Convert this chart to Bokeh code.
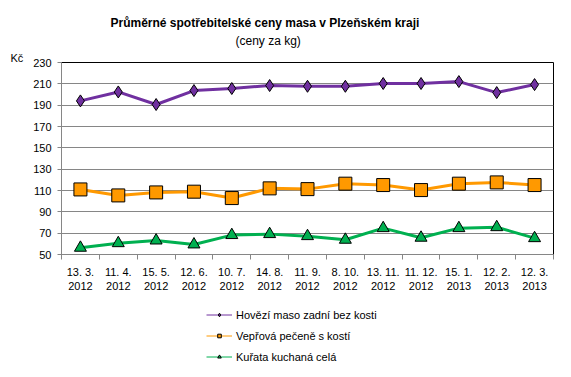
from bokeh.plotting import figure
from bokeh.layouts import column
from bokeh.models import Range1d, FixedTicker, Title, Legend, LegendItem, ColumnDataSource
from bokeh.embed import file_html
from bokeh.resources import INLINE

dates = ["13. 3.\n2012", "11. 4.\n2012", "15. 5.\n2012", "12. 6.\n2012", "10. 7.\n2012",
         "14. 8.\n2012", "11. 9.\n2012", "8. 10.\n2012", "13. 11.\n2012", "11. 12.\n2012",
         "15. 1.\n2013", "12. 2.\n2013", "12. 3.\n2013"]
hovezi = [194.0, 202.4, 190.6, 203.7, 205.6, 208.4, 207.7, 207.7, 210.3, 210.3, 212.1, 201.8, 209.3]
veprova = [111.0, 105.4, 108.2, 108.9, 102.9, 112.0, 111.3, 116.4, 115.1, 110.4, 116.4, 117.6, 115.1]
kurata = [56.3, 60.6, 63.1, 59.4, 68.2, 69.1, 67.2, 63.8, 74.7, 65.7, 74.7, 75.6, 65.3]
names = ["Hovězí maso zadní bez kosti", "Vepřová pečeně s kostí", "Kuřata kuchaná celá"]
y_ticks = [50, 70, 90, 110, 130, 150, 170, 190, 210, 230]

FONT = "Liberation Sans"
xs = [i + 0.5 for i in range(len(dates))]

W = 571
MAIN_H, LEG_H = 300, 77
FL, FR, FT = 61, 18, 62
FB = MAIN_H - 254
p = figure(width=W, height=MAIN_H, output_backend="svg", toolbar_location=None,
           x_range=Range1d(0, len(dates)), y_range=Range1d(50, 230),
           min_border_left=FL, min_border_right=FR, min_border_top=FT, min_border_bottom=FB)
p.outline_line_color = "black"
p.outline_line_width = 1
p.background_fill_color = "white"
p.border_fill_color = "white"

p.xgrid.visible = False
p.ygrid.grid_line_color = "#868686"
p.ygrid.grid_line_width = 1
p.yaxis.ticker = FixedTicker(ticks=y_ticks)
p.yaxis.axis_line_color = "#868686"
p.yaxis.major_tick_line_color = "#868686"
p.yaxis.major_tick_out = 4
p.yaxis.major_tick_in = 0
p.yaxis.minor_tick_line_color = None
p.yaxis.major_label_text_font = FONT
p.yaxis.major_label_text_font_size = "11px"
p.yaxis.major_label_text_color = "black"
p.yaxis.major_label_standoff = 6

p.xaxis.ticker = FixedTicker(ticks=xs, minor_ticks=list(range(len(dates) + 1)))
p.xaxis.major_label_overrides = {x: d for x, d in zip(xs, dates)}
p.xaxis.axis_line_color = "#868686"
p.xaxis.major_tick_line_color = None
p.xaxis.major_tick_out = 0
p.xaxis.major_tick_in = 0
p.xaxis.minor_tick_line_color = "#868686"
p.xaxis.minor_tick_out = 5
p.xaxis.minor_tick_in = 0
p.xaxis.major_label_text_font = FONT
p.xaxis.major_label_text_font_size = "11px"
p.xaxis.major_label_text_color = "black"
p.xaxis.major_label_standoff = 6

colors = ["#7030A0", "#FF9900", "#00B050"]
markers = ["diamond", "square", "triangle"]
sizes = [12, 13, 12]
series = [hovezi, veprova, kurata]

# legend lives in its own small figure below the chart; its proxy renderers use the
# same data, which lies far outside this figure's ranges (so only the legend shows)
lf = figure(width=W, height=LEG_H, output_backend="svg", toolbar_location=None,
            x_range=Range1d(-2, -1), y_range=Range1d(0, 1),
            min_border_left=0, min_border_right=0, min_border_top=0, min_border_bottom=0)
lf.axis.visible = False
lf.grid.visible = False
lf.outline_line_color = None
lf.background_fill_color = "white"
lf.border_fill_color = "white"

items = []
for name, vals, c, m, s in zip(names, series, colors, markers, sizes):
    src = ColumnDataSource(dict(x=xs, y=vals))
    p.line("x", "y", source=src, line_color=c, line_width=3)
    p.scatter("x", "y", source=src, marker=m, size=s, fill_color=c, line_color="black", line_width=1)
    lr = lf.line("x", "y", source=src, line_color=c, line_width=1)
    sr = lf.scatter("x", "y", source=src, marker=m, fill_color=c, line_color="black", line_width=1)
    items.append(LegendItem(label=name, renderers=[lr, sr]))

legend = Legend(items=items, location=(145, 13), orientation="vertical",
                glyph_width=26, glyph_height=9, label_height=15, spacing=6, padding=0, margin=0,
                label_text_font=FONT, label_text_font_size="11px", label_text_color="black",
                label_standoff=4, background_fill_alpha=0, border_line_color=None)
lf.add_layout(legend, "center")

# stacked above the frame: nearest first
p.add_layout(Title(text="Kč", align="left", offset=-(FL - 10), text_font=FONT,
                   text_font_size="11px", text_font_style="normal", text_color="black",
                   standoff=-3), "above")
p.add_layout(Title(text="(ceny za kg)", align="left", offset=235 - FL, text_font=FONT,
                   text_font_size="12px", text_font_style="normal", text_color="black",
                   standoff=8), "above")
p.add_layout(Title(text="Průměrné spotřebitelské  ceny masa v Plzeňském kraji", align="left",
                   offset=110 - FL, text_font=FONT, text_font_size="12px", text_font_style="bold",
                   text_color="black", standoff=-4), "above")

layout = column(p, lf, spacing=0)
open("out.html", "w").write(file_html(layout, INLINE))
